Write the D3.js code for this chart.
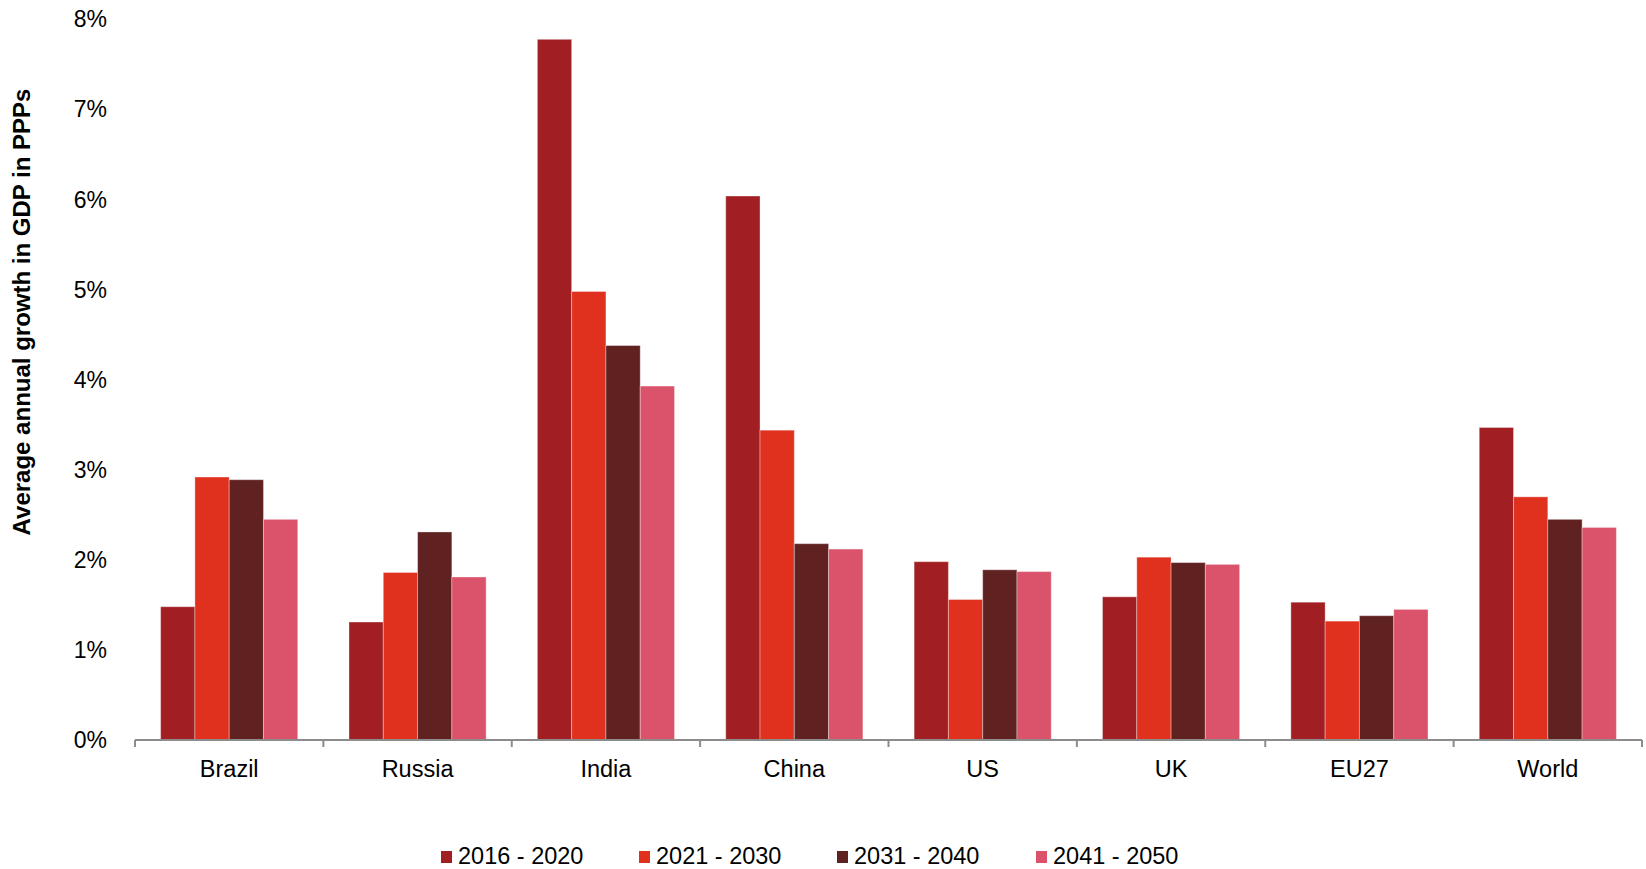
<!DOCTYPE html>
<html>
<head>
<meta charset="utf-8">
<script src="https://cdn.jsdelivr.net/npm/d3@7"></script>
<style>
  html, body { margin: 0; padding: 0; background: #fff; }
  svg { display: block; font-family: "Liberation Sans", Arial, sans-serif; }
</style>
</head>
<body>
<svg id="chart" width="1646" height="869"></svg>
<script>
// Average annual real GDP growth (PPP), by period
const categories = ["Brazil", "Russia", "India", "China", "US", "UK", "EU27", "World"];
const periods = ["2016 - 2020", "2021 - 2030", "2031 - 2040", "2041 - 2050"];
const growth2016_2020 = [1.48, 1.31, 7.78, 6.04, 1.98, 1.59, 1.53, 3.47];
const growth2021_2030 = [2.92, 1.86, 4.98, 3.44, 1.56, 2.03, 1.32, 2.70];
const growth2031_2040 = [2.89, 2.31, 4.38, 2.18, 1.89, 1.97, 1.38, 2.45];
const growth2041_2050 = [2.45, 1.81, 3.93, 2.12, 1.87, 1.95, 1.45, 2.36];
const seriesValues = [growth2016_2020, growth2021_2030, growth2031_2040, growth2041_2050];
const yTicks = [0, 1, 2, 3, 4, 5, 6, 7, 8];
const colors = ["#A11F22", "#E0301E", "#602121", "#DB536A"];

const svg = d3.select("#chart");

const x0 = d3.scaleBand().domain(categories).range([135, 1642]).padding(0);
const groupInset = x0.bandwidth() * 0.136;
const x1 = d3.scaleBand().domain(periods)
  .range([groupInset, x0.bandwidth() - groupInset]).padding(0);
const y = d3.scaleLinear().domain([0, 8]).range([740, 19.5]);
const color = d3.scaleOrdinal().domain(periods).range(colors);

// bars
const groups = svg.append("g").selectAll("g")
  .data(categories)
  .join("g")
  .attr("transform", d => `translate(${x0(d)},0)`);

groups.selectAll("rect")
  .data((c, i) => periods.map((p, j) => ({ period: p, value: seriesValues[j][i] })))
  .join("rect")
  .attr("x", d => x1(d.period))
  .attr("width", x1.bandwidth())
  .attr("y", d => y(d.value))
  .attr("height", d => y(0) - y(d.value))
  .attr("fill", d => color(d.period))
  .attr("stroke", "rgba(255,255,255,0.35)")
  .attr("stroke-width", 1);

// x axis
const xAxis = svg.append("g")
  .attr("transform", `translate(0,${y(0)})`)
  .call(d3.axisBottom(x0).tickSize(0).tickPadding(20));
xAxis.select(".domain").remove();
xAxis.selectAll("text")
  .attr("font-size", 23.5)
  .attr("fill", "#000")
  .attr("font-family", "'Liberation Sans', Arial, sans-serif");

svg.append("line")
  .attr("x1", 135).attr("x2", 1642)
  .attr("y1", y(0)).attr("y2", y(0))
  .attr("stroke", "#8c8c8c").attr("stroke-width", 2);

const boundaries = categories.map(c => x0(c)).concat([x0.range()[1]]);
svg.append("g").selectAll("line")
  .data(boundaries)
  .join("line")
  .attr("x1", d => d).attr("x2", d => d)
  .attr("y1", y(0)).attr("y2", y(0) + 7)
  .attr("stroke", "#8c8c8c").attr("stroke-width", 2);

// y axis labels
const yAxis = svg.append("g")
  .attr("transform", "translate(107,0)")
  .call(d3.axisLeft(y).tickValues(yTicks).tickFormat(d => d + "%").tickSize(0).tickPadding(0));
yAxis.select(".domain").remove();
yAxis.selectAll("text")
  .attr("font-size", 23)
  .attr("fill", "#000")
  .attr("font-family", "'Liberation Sans', Arial, sans-serif");

// y axis title
svg.append("text")
  .attr("transform", "translate(30,312) rotate(-90)")
  .attr("text-anchor", "middle")
  .attr("font-size", 24)
  .attr("font-weight", "bold")
  .attr("fill", "#000")
  .text("Average annual growth in GDP in PPPs");

// legend
const legendX = [441, 639, 837, 1036];
const legend = svg.append("g").selectAll("g")
  .data(periods)
  .join("g")
  .attr("transform", (d, i) => `translate(${legendX[i]},0)`);
legend.append("rect")
  .attr("x", 0).attr("y", 851)
  .attr("width", 11).attr("height", 12)
  .attr("fill", d => color(d));
legend.append("text")
  .attr("x", 17).attr("y", 864)
  .attr("font-size", 23.5)
  .attr("fill", "#000")
  .text(d => d);
</script>
</body>
</html>
